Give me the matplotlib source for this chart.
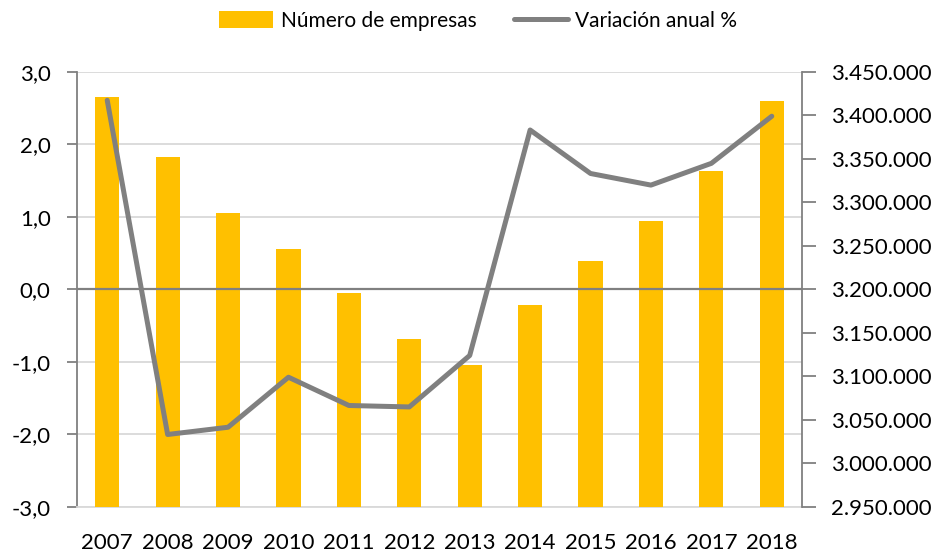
import numpy as np
import matplotlib.pyplot as plt
from matplotlib.ticker import FuncFormatter

plt.rcParams['font.family'] = ['Lato', 'DejaVu Sans']

anios = ['2007', '2008', '2009', '2010', '2011', '2012', '2013', '2014', '2015', '2016', '2017', '2018']
numEmpresas = [3420900, 3352000, 3287900, 3246500, 3196000, 3143600,
               3113700, 3182600, 3232800, 3278400, 3335900, 3416300]
variacionAnual = [2.61, -2.00, -1.90, -1.21, -1.60, -1.62,
                  -0.91, 2.20, 1.60, 1.44, 1.74, 2.39]

amarillo = '#FFC000'
gris = '#808080'
gridGris = '#D9D9D9'

x = np.arange(len(anios))

fig = plt.figure(figsize=(9.38, 5.53), dpi=100)
pos = [0.0821, 0.0832, 0.7729, 0.7866]

# eje izquierdo: grid y etiquetas de variacion
ax1 = fig.add_axes(pos)
ax1.set_ylim(-3, 3)
ax1.set_xlim(-0.5, len(anios) - 0.5)
ax1.set_yticks(np.arange(-3, 4, 1))
ax1.yaxis.set_major_formatter(FuncFormatter(lambda v, p: f'{v:.1f}'.replace('.', ',')))
ax1.grid(axis='y', color=gridGris, linewidth=1.3)
ax1.set_axisbelow(True)
ax1.set_xticks(x)
ax1.set_xticklabels(anios, fontsize=16)
ax1.tick_params(axis='x', length=0, pad=19)
ax1.tick_params(axis='y', labelsize=16, length=7, width=1.3, color=gris, pad=12)
for s in ['top', 'right']:
    ax1.spines[s].set_visible(False)
ax1.spines['bottom'].set_color(gridGris)
ax1.spines['bottom'].set_linewidth(1.3)
ax1.spines['left'].set_color(gris)
ax1.spines['left'].set_linewidth(1.3)

# eje derecho: barras numero de empresas
ax2 = ax1.twinx()
ax2.set_ylim(2950000, 3450000)
ax2.set_yticks(np.arange(2950000, 3450001, 50000))
ax2.yaxis.set_major_formatter(FuncFormatter(lambda v, p: f'{int(v):,}'.replace(',', '.')))
ax2.tick_params(axis='y', labelsize=16, length=10, width=1.3, color=gris, pad=11)
barras = ax2.bar(x, numEmpresas, width=0.4, color=amarillo, label='Número de empresas')
for s in ['top', 'left', 'bottom']:
    ax2.spines[s].set_visible(False)
ax2.spines['right'].set_color(gris)
ax2.spines['right'].set_linewidth(1.3)

# linea de variacion por encima de las barras
ax3 = fig.add_axes(pos, sharex=ax1)
ax3.set_ylim(-3, 3)
ax3.axis('off')
ax3.axhline(0, color=gris, linewidth=1.6)
linea, = ax3.plot(x, variacionAnual, color=gris, linewidth=3.6,
                  solid_capstyle='round', solid_joinstyle='round', label='Variación anual %')

fig.legend([barras, linea], ['Número de empresas', 'Variación anual %'],
           loc='center', bbox_to_anchor=(0.51, 0.962), ncol=2, frameon=False,
           fontsize=15, handlelength=2.6, handleheight=0.9, columnspacing=1.8, handletextpad=0.35)

fig.savefig('out.png', dpi=100)
